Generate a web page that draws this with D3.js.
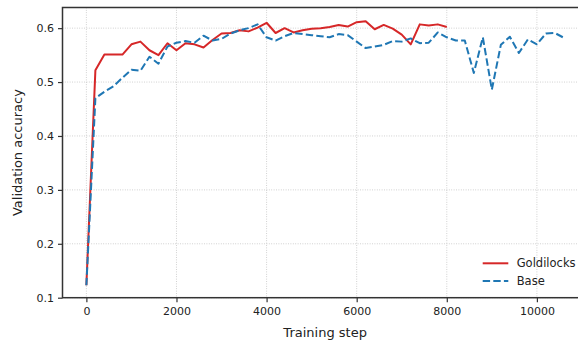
<!DOCTYPE html>
<html>
<head>
<meta charset="utf-8">
<script src="https://cdn.jsdelivr.net/npm/d3@7"></script>
<style>
  html, body { margin: 0; padding: 0; background: #fff; }
  svg { display: block; font-family: "DejaVu Sans", sans-serif; }
</style>
</head>
<body>
<svg id="chart" width="578" height="346"></svg>
<script>
// ---- data ----
const goldSteps = [0,200,400,600,800,1000,1200,1400,1600,1800,2000,2200,2400,2600,2800,3000,3200,3400,3600,3800,4000,4200,4400,4600,4800,5000,5200,5400,5600,5800,6000,6200,6400,6600,6800,7000,7200,7400,7600,7800,8000];
const goldValues = [0.123,0.522,0.551,0.551,0.551,0.570,0.575,0.559,0.550,0.572,0.559,0.572,0.570,0.564,0.578,0.590,0.591,0.596,0.594,0.601,0.610,0.591,0.600,0.592,0.596,0.599,0.600,0.602,0.606,0.603,0.611,0.613,0.598,0.606,0.599,0.588,0.570,0.607,0.605,0.607,0.602];
const baseSteps = [0,200,400,600,800,1000,1200,1400,1600,1800,2000,2200,2400,2600,2800,3000,3200,3400,3600,3800,4000,4200,4400,4600,4800,5000,5200,5400,5600,5800,6000,6200,6400,6600,6800,7000,7200,7400,7600,7800,8000,8200,8400,8600,8800,9000,9200,9400,9600,9800,10000,10200,10400,10600];
const baseValues = [0.123,0.470,0.482,0.492,0.508,0.523,0.521,0.547,0.534,0.566,0.573,0.576,0.573,0.586,0.577,0.580,0.590,0.596,0.600,0.607,0.583,0.577,0.585,0.591,0.589,0.587,0.585,0.583,0.589,0.587,0.575,0.563,0.566,0.569,0.576,0.575,0.581,0.572,0.573,0.592,0.583,0.577,0.577,0.517,0.583,0.486,0.569,0.584,0.554,0.579,0.570,0.590,0.591,0.582];
const xTicks = [0,2000,4000,6000,8000,10000];
const yTicks = [0.1,0.2,0.3,0.4,0.5,0.6];
const seriesNames = ["Goldilocks","Base"];
const seriesColors = ["#d62728","#1f77b4"];
const seriesDash = [null,"7.4,3.2"];

const series = [
  {name: seriesNames[0], steps: goldSteps, values: goldValues, color: seriesColors[0], dash: seriesDash[0]},
  {name: seriesNames[1], steps: baseSteps, values: baseValues, color: seriesColors[1], dash: seriesDash[1]}
];

// ---- layout ----
const svg = d3.select("#chart");
const pL = 62.5, pR = 587.8, pT = 7.5, pB = 297.7;
const x = d3.scaleLinear().domain([-530, 11130]).range([pL, pR]);
const y = d3.scaleLinear().domain([0.1, 0.6383]).range([pB, pT]);

// grid
const grid = svg.append("g");
grid.selectAll(".gx").data(xTicks).enter().append("line")
  .attr("x1", d => x(d)).attr("x2", d => x(d))
  .attr("y1", pT).attr("y2", pB)
  .attr("stroke", "#b8b8b8").attr("stroke-width", 0.8).attr("stroke-dasharray", "0.8,1.6");
grid.selectAll(".gy").data(yTicks).enter().append("line")
  .attr("x1", pL).attr("x2", pR)
  .attr("y1", d => y(d)).attr("y2", d => y(d))
  .attr("stroke", "#b8b8b8").attr("stroke-width", 0.8).attr("stroke-dasharray", "0.8,1.6");

// lines
const line = d3.line().x(d => x(d[0])).y(d => y(d[1]));
series.forEach(s => {
  const pts = s.steps.map((st, i) => [st, s.values[i]]);
  svg.append("path").datum(pts)
    .attr("d", line)
    .attr("fill", "none")
    .attr("stroke", s.color)
    .attr("stroke-width", 2)
    .attr("stroke-linejoin", "round")
    .attr("stroke-dasharray", s.dash);
});

// axes
const axisColor = "#333";
const xAxis = svg.append("g").attr("transform", `translate(0,${pB})`)
  .call(d3.axisBottom(x).tickValues(xTicks).tickFormat(d3.format("d")).tickSizeOuter(0).tickSize(4.5).tickPadding(5.5));
const yAxis = svg.append("g").attr("transform", `translate(${pL},0)`)
  .call(d3.axisLeft(y).tickValues(yTicks).tickFormat(d3.format(".1f")).tickSizeOuter(0).tickSize(4.5).tickPadding(4));
[xAxis, yAxis].forEach(a => {
  a.select(".domain").remove();
  a.selectAll(".tick line").attr("stroke", axisColor).attr("stroke-width", 1.2);
  a.selectAll(".tick text").attr("fill", "#222").attr("font-size", 11).attr("font-family", "DejaVu Sans");
});

// spines
svg.append("rect")
  .attr("x", pL).attr("y", pT)
  .attr("width", pR - pL).attr("height", pB - pT)
  .attr("fill", "none").attr("stroke", axisColor).attr("stroke-width", 1.5);

// axis labels
svg.append("text").attr("x", (pL + pR) / 2).attr("y", 333)
  .attr("text-anchor", "middle").attr("dominant-baseline", "middle")
  .attr("font-size", 13).attr("fill", "#222").text("Training step");
svg.append("text").attr("transform", `translate(18,${(pT + pB) / 2}) rotate(-90)`)
  .attr("text-anchor", "middle").attr("dominant-baseline", "middle")
  .attr("font-size", 13).attr("fill", "#222").text("Validation accuracy");

// legend
const lg = svg.append("g").attr("transform", "translate(482.7,263.3)");
series.forEach((s, i) => {
  const g = lg.append("g").attr("transform", `translate(0,${i * 17.7})`);
  g.append("line").attr("x1", 0).attr("x2", 25.6).attr("y1", 0).attr("y2", 0)
    .attr("stroke", s.color).attr("stroke-width", 2).attr("stroke-dasharray", s.dash);
  g.append("text").attr("x", 34).attr("y", 0).attr("dominant-baseline", "middle")
    .attr("font-size", 11.5).attr("fill", "#222").text(s.name);
});
</script>
</body>
</html>
